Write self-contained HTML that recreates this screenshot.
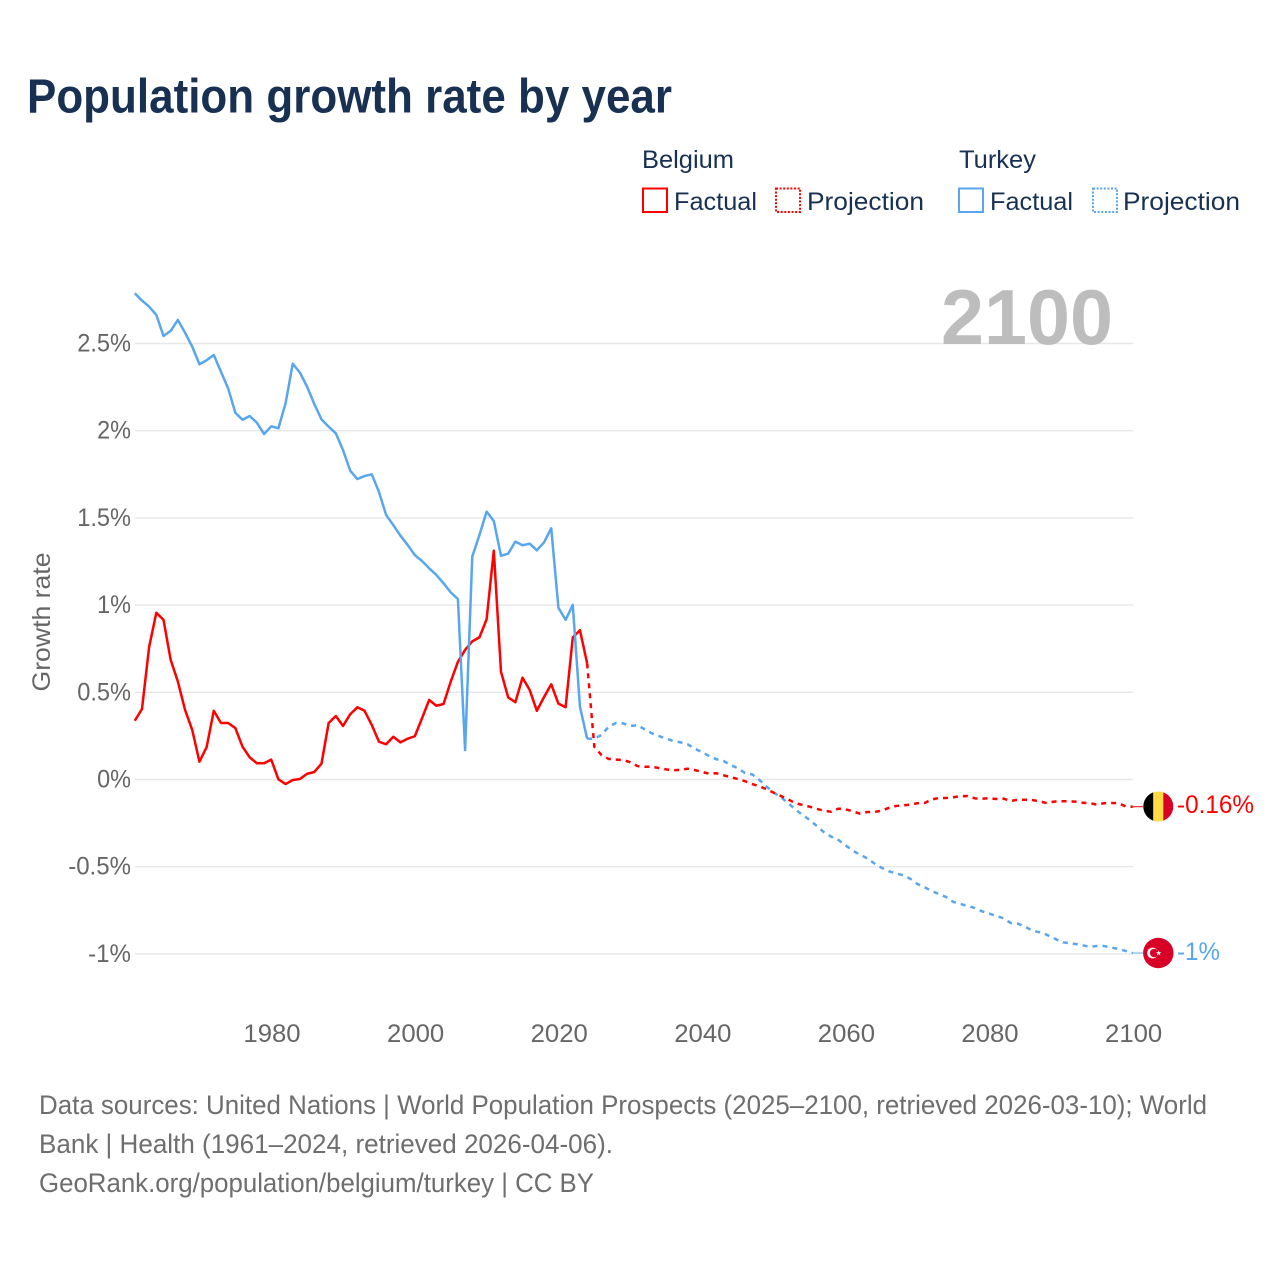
<!DOCTYPE html>
<html lang="en">
<head>
<meta charset="utf-8">
<title>Population growth rate by year</title>
<style>
html,body{margin:0;padding:0;background:#fff;width:1280px;height:1280px;overflow:hidden}
svg{display:block;font-family:"Liberation Sans",sans-serif}
.legend-text{font-size:25px;fill:#183153}
.foot{font-size:26.5px;fill:#6e6e6e}
.tick{font-size:25px;fill:#666}
</style>
</head>
<body>
<svg id="chart" xmlns="http://www.w3.org/2000/svg" width="1280" height="1280" viewBox="0 0 1280 1280">
  <rect x="0" y="0" width="1280" height="1280" fill="#fff"/>
  <text x="27" y="112.5" font-size="48" font-weight="700" fill="#183153" textLength="645" lengthAdjust="spacingAndGlyphs">Population growth rate by year</text>

  <g>
    <text class="legend-text" x="642" y="168" textLength="92" lengthAdjust="spacingAndGlyphs">Belgium</text>
    <rect x="643" y="188.5" width="24" height="23.5" fill="none" stroke="#ff0000" stroke-width="2"/>
    <text class="legend-text" x="674" y="210" textLength="83" lengthAdjust="spacingAndGlyphs">Factual</text>
    <rect x="776" y="188.5" width="24" height="23.5" fill="none" stroke="#ff0000" stroke-width="2" stroke-dasharray="2 1.6"/>
    <text class="legend-text" x="807" y="210" textLength="117" lengthAdjust="spacingAndGlyphs">Projection</text>
    <text class="legend-text" x="959" y="168" textLength="77" lengthAdjust="spacingAndGlyphs">Turkey</text>
    <rect x="959" y="188.5" width="24" height="23.5" fill="none" stroke="#58a6ee" stroke-width="2"/>
    <text class="legend-text" x="990" y="210" textLength="83" lengthAdjust="spacingAndGlyphs">Factual</text>
    <rect x="1093" y="188.5" width="24" height="23.5" fill="none" stroke="#58a6ee" stroke-width="2" stroke-dasharray="2 1.6"/>
    <text class="legend-text" x="1123" y="210" textLength="117" lengthAdjust="spacingAndGlyphs">Projection</text>
  </g>

  <g id="grid"></g>
  <text x="941" y="344" font-size="78" font-weight="700" fill="#bdbdbd" textLength="172" lengthAdjust="spacingAndGlyphs">2100</text>
  <g id="yticks"></g>
  <g id="xticks"></g>
  <text transform="translate(50,622) rotate(-90)" text-anchor="middle" font-size="25" fill="#666" textLength="139" lengthAdjust="spacingAndGlyphs">Growth rate</text>
  <g id="series"></g>

  <g>
    <clipPath id="clip-be"><circle cx="1158.3" cy="806.5" r="15"/></clipPath>
    <g clip-path="url(#clip-be)">
      <rect x="1143" y="791" width="10.3" height="31" fill="#000"/>
      <rect x="1153.3" y="791" width="10" height="31" fill="#ffda44"/>
      <rect x="1163.3" y="791" width="10.3" height="31" fill="#d80027"/>
    </g>
  </g>
  <g>
    <circle cx="1158.3" cy="953" r="15.2" fill="#d80027"/>
    <circle cx="1152.6" cy="953" r="5.4" fill="#fff"/>
    <circle cx="1154.2" cy="953" r="4.3" fill="#d80027"/>
    <polygon points="1158.7,950.3 1159.4,952.2 1161.4,952.2 1159.8,953.4 1160.4,955.4 1158.7,954.2 1157,955.4 1157.6,953.4 1156,952.2 1158,952.2" fill="#fff"/>
  </g>
  <text x="1177" y="813" font-size="25" fill="#ff0000" textLength="77" lengthAdjust="spacingAndGlyphs">-0.16%</text>
  <text x="1177" y="960" font-size="25" fill="#58a6ee" textLength="43" lengthAdjust="spacingAndGlyphs">-1%</text>

  <g>
    <text class="foot" x="39" y="1114" textLength="1168" lengthAdjust="spacingAndGlyphs">Data sources: United Nations | World Population Prospects (2025–2100, retrieved 2026-03-10); World</text>
    <text class="foot" x="39" y="1153" textLength="574" lengthAdjust="spacingAndGlyphs">Bank | Health (1961–2024, retrieved 2026-04-06).</text>
    <text class="foot" x="39" y="1192" textLength="555" lengthAdjust="spacingAndGlyphs">GeoRank.org/population/belgium/turkey | CC BY</text>
  </g>
</svg>
<script>
const factualStartYear = 1961;
const projectionStartYear = 2024;
const xTickYears = [1980, 2000, 2020, 2040, 2060, 2080, 2100];
const yTickValues = [2.5, 2, 1.5, 1, 0.5, 0, -0.5, -1];
const belgiumFactual = [
  .337,.404,.761,.956,.915,.685,.561,.399,.284,.102,
  .185,.394,.324,.324,.295,.188,.127,.093,.093,.114,
  .001,-.026,-.003,.003,.033,.043,.091,.324,.364,.307,
  .374,.414,.394,.313,.217,.202,.245,.213,.234,.248,
  .351,.456,.423,.433,.561,.675,.743,.792,.815,.919,
  1.312,.618,.471,.443,.584,.513,.394,.473,.546,.435,
  .414,.815,.856,.666
];
const belgiumProjection = [
  .666,.188,.140,.118,.114,.112,.099,.077,.073,.073,
  .066,.058,.053,.056,.062,.054,.043,.033,.036,.024,
  .013,.003,-.010,-.026,-.039,-.056,-.076,-.095,-.114,-.136,
  -.146,-.156,-.169,-.179,-.185,-.167,-.171,-.182,-.196,-.186,
  -.186,-.179,-.163,-.152,-.148,-.144,-.136,-.135,-.114,-.106,
  -.106,-.102,-.095,-.095,-.108,-.110,-.108,-.112,-.110,-.123,
  -.116,-.116,-.118,-.125,-.135,-.127,-.125,-.125,-.127,-.133,
  -.136,-.144,-.136,-.135,-.136,-.154,-.156
];
const turkeyFactual = [
  2.788,2.746,2.711,2.663,2.543,2.573,2.635,2.562,2.482,2.381,
  2.404,2.434,2.338,2.243,2.103,2.063,2.084,2.046,1.981,2.025,
  2.014,2.157,2.384,2.333,2.252,2.153,2.065,2.023,1.985,1.889,
  1.771,1.723,1.740,1.750,1.650,1.517,1.459,1.398,1.345,1.287,
  1.253,1.211,1.173,1.125,1.073,1.035,.169,1.278,1.402,1.536,
  1.482,1.283,1.295,1.364,1.343,1.352,1.314,1.360,1.440,.985,
  .915,1.001,.417,.234
];
const turkeyProjection = [
  .234,.234,.255,.303,.324,.322,.307,.311,.288,.265,
  .249,.234,.221,.213,.202,.177,.156,.135,.116,.106,
  .083,.064,.037,.029,-.003,-.041,-.076,-.102,-.136,-.171,
  -.204,-.232,-.267,-.303,-.328,-.347,-.378,-.408,-.431,-.452,
  -.481,-.506,-.526,-.538,-.549,-.569,-.599,-.618,-.639,-.657,
  -.674,-.702,-.714,-.725,-.737,-.756,-.769,-.783,-.796,-.823,
  -.827,-.844,-.867,-.876,-.890,-.909,-.932,-.938,-.943,-.951,
  -.959,-.955,-.955,-.964,-.972,-.983,-.995
];

const NS = 'http://www.w3.org/2000/svg';
function xScale(year) { return 134.8 + (year - 1961) * 7.18; }
function yScale(v) { return 779.5 - v * 174.4; }
function pointsOf(values, startYear) {
  return values.map(function (v, i) {
    return xScale(startYear + i).toFixed(2) + ',' + yScale(v).toFixed(2);
  }).join(' ');
}
function labelWidth(s) {
  let w = 0;
  for (const c of s) {
    if (c === '.') w += 5.5;
    else if (c === '%') w += 19.5;
    else if (c === '-') w += 9;
    else w += 14.4;
  }
  return w;
}
function percentLabel(v) { return String(v) + '%'; }

const grid = document.getElementById('grid');
const yticks = document.getElementById('yticks');
const xticks = document.getElementById('xticks');
const series = document.getElementById('series');

yTickValues.forEach(function (v) {
  const line = document.createElementNS(NS, 'line');
  
  
  line.setAttribute('x1', 135);
  line.setAttribute('x2', 1133);
  line.setAttribute('y1', yScale(v));
  line.setAttribute('y2', yScale(v));
  line.setAttribute('stroke', '#e7e7e7');
  line.setAttribute('stroke-width', 1.4);
  grid.appendChild(line);

  const label = document.createElementNS(NS, 'text');
  
  
  const s = percentLabel(v);
  label.setAttribute('class', 'tick');
  label.setAttribute('x', 131 - labelWidth(s));
  label.setAttribute('y', yScale(v) + 8);
  label.setAttribute('textLength', labelWidth(s));
  label.setAttribute('lengthAdjust', 'spacingAndGlyphs');
  label.textContent = s;
  yticks.appendChild(label);
});

xTickYears.forEach(function (year) {
  const label = document.createElementNS(NS, 'text');
  
  
  const s = String(year);
  label.setAttribute('class', 'tick');
  label.setAttribute('x', xScale(year) - 27.8);
  label.setAttribute('y', 1042);
  label.setAttribute('textLength', 57.2);
  label.setAttribute('lengthAdjust', 'spacingAndGlyphs');
  label.textContent = s;
  xticks.appendChild(label);
});

function drawLine(name, values, startYear, color, dashed) {
  const pl = document.createElementNS(NS, 'polyline');
  
  
  pl.setAttribute('points', pointsOf(values, startYear));
  pl.setAttribute('fill', 'none');
  pl.setAttribute('stroke', color);
  pl.setAttribute('stroke-width', 2.5);
  pl.setAttribute('stroke-linejoin', 'round');
  if (dashed) pl.setAttribute('stroke-dasharray', '5 5');
  series.appendChild(pl);
}
function drawConnector(name, values, color) {
  const y = yScale(values[values.length - 1]);
  const c = document.createElementNS(NS, 'line');
  
  
  c.setAttribute('x1', xScale(2100));
  c.setAttribute('x2', 1143);
  c.setAttribute('y1', y);
  c.setAttribute('y2', y);
  c.setAttribute('stroke', color);
  c.setAttribute('stroke-width', 1);
  series.appendChild(c);
}
const RED = '#ff0000';
const BLUE = '#58a6ee';
drawLine('belgium-factual-line', belgiumFactual, factualStartYear, RED, false);
drawLine('turkey-factual-line', turkeyFactual, factualStartYear, BLUE, false);
drawLine('turkey-projection-line', turkeyProjection, projectionStartYear, BLUE, true);
drawLine('belgium-projection-line', belgiumProjection, projectionStartYear, RED, true);
drawConnector('belgium-connector', belgiumProjection, RED);
drawConnector('turkey-connector', turkeyProjection, BLUE);
</script>
</body>
</html>
